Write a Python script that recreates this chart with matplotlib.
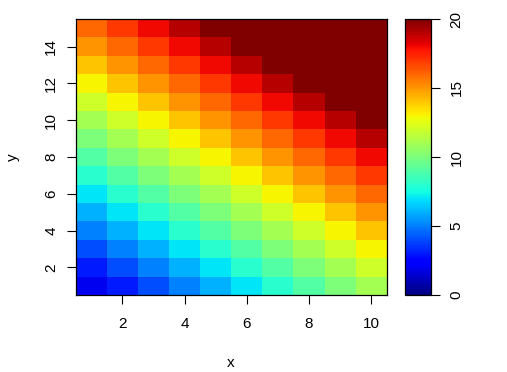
import numpy as np
import matplotlib
matplotlib.use('Agg')
import matplotlib.pyplot as plt

plt.rcParams['font.family'] = ['Liberation Sans', 'DejaVu Sans']

# grid values (rows: y = 1..15, columns: x = 1..10)
x_vals = [1, 2, 3, 4, 5, 6, 7, 8, 9, 10]
y_vals = [1, 2, 3, 4, 5, 6, 7, 8, 9, 10, 11, 12, 13, 14, 15]
z = [
    [2, 3, 4, 5, 6, 7, 8, 9, 10, 11],
    [3, 4, 5, 6, 7, 8, 9, 10, 11, 12],
    [4, 5, 6, 7, 8, 9, 10, 11, 12, 13],
    [5, 6, 7, 8, 9, 10, 11, 12, 13, 14],
    [6, 7, 8, 9, 10, 11, 12, 13, 14, 15],
    [7, 8, 9, 10, 11, 12, 13, 14, 15, 16],
    [8, 9, 10, 11, 12, 13, 14, 15, 16, 17],
    [9, 10, 11, 12, 13, 14, 15, 16, 17, 18],
    [10, 11, 12, 13, 14, 15, 16, 17, 18, 19],
    [11, 12, 13, 14, 15, 16, 17, 18, 19, 20],
    [12, 13, 14, 15, 16, 17, 18, 19, 20, 20],
    [13, 14, 15, 16, 17, 18, 19, 20, 20, 20],
    [14, 15, 16, 17, 18, 19, 20, 20, 20, 20],
    [15, 16, 17, 18, 19, 20, 20, 20, 20, 20],
    [16, 17, 18, 19, 20, 20, 20, 20, 20, 20],
]
x_ticks = [2, 4, 6, 8, 10]
y_ticks = [2, 4, 6, 8, 10, 12, 14]
cb_ticks = [0, 5, 10, 15, 20]

W, H = 507, 372
fig = plt.figure(figsize=(W / 100, H / 100), dpi=100)
ax = fig.add_axes([75.7 / W, 1 - 295 / H, 311 / W, 276 / H])
cax = fig.add_axes([405 / W, 1 - 295 / H, 25.7 / W, 276 / H])

xe = np.arange(len(x_vals) + 1) + 0.5
ye = np.arange(len(y_vals) + 1) + 0.5
mesh = ax.pcolormesh(xe, ye, np.array(z), cmap='jet', vmin=0, vmax=20)

fs = 11
ax.set_xlim(0.5, 10.5)
ax.set_ylim(0.5, 15.5)
ax.set_xticks(x_ticks)
ax.set_yticks(y_ticks)
ax.set_yticklabels([str(t) for t in y_ticks], rotation=90, va='center')
ax.tick_params(labelsize=fs, length=6.5, width=0.8)
ax.tick_params(axis='x', pad=9)
ax.tick_params(axis='y', pad=6)
for s in ax.spines.values():
    s.set_linewidth(0.9)

fig.text(231 / W, 1 - 363 / H, 'x', fontsize=fs, ha='center', va='center')
fig.text(13 / W, 1 - 157 / H, 'y', fontsize=fs, ha='center', va='center',
         rotation=90)

cb = fig.colorbar(mesh, cax=cax, ticks=cb_ticks)
cb.outline.set_linewidth(0.9)
cax.tick_params(labelsize=fs, length=6.5, width=0.8, pad=7)
cax.set_yticklabels([str(t) for t in cb_ticks], rotation=90, va='center')

fig.savefig('out.png', dpi=100)
